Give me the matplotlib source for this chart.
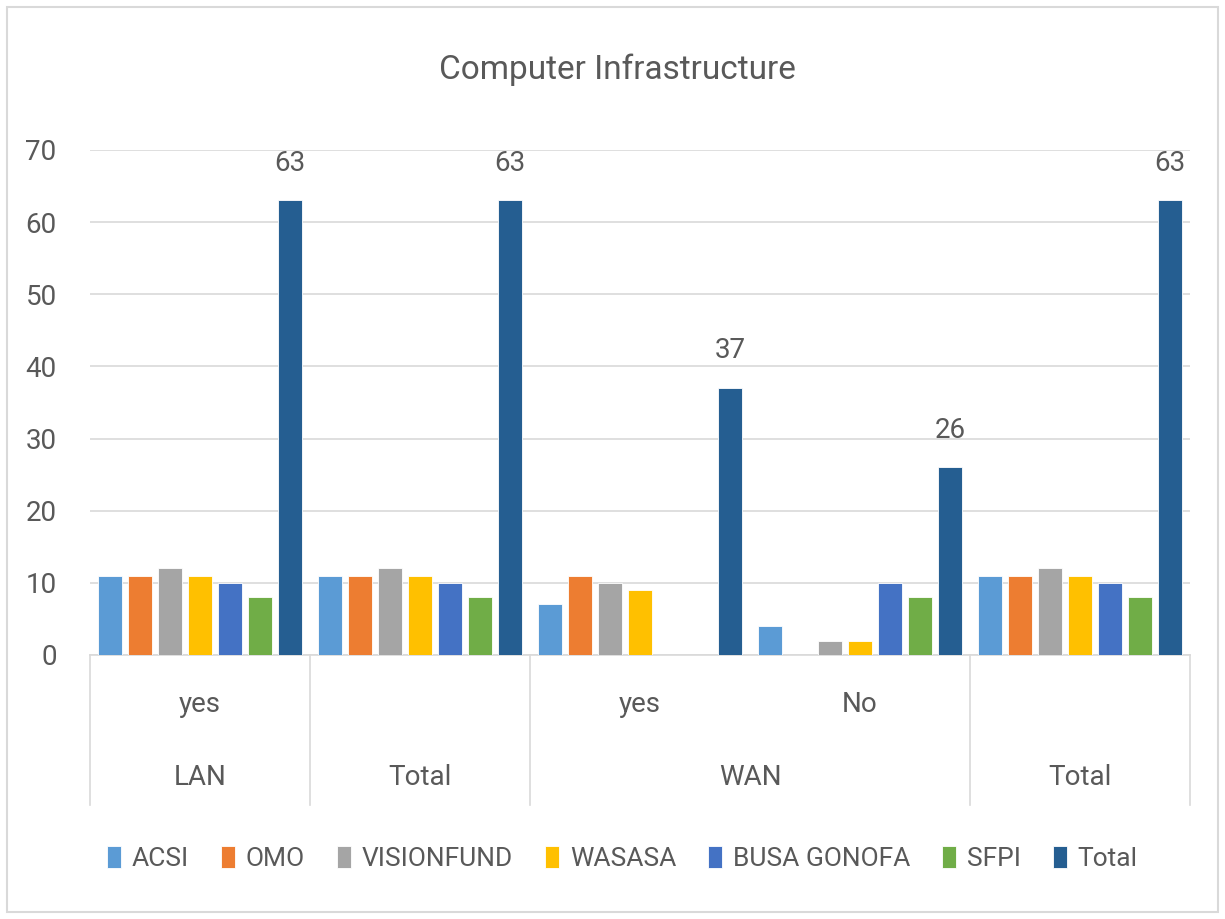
import numpy as np
import matplotlib.pyplot as plt
from matplotlib import font_manager
from matplotlib.patches import Rectangle

# categories (inner level) and outer groups
inner_labels = ['yes', '', 'yes', 'No', '']
outer_labels = ['LAN', 'Total', 'WAN', 'Total']
outer_spans = [(0, 0), (1, 1), (2, 3), (4, 4)]

series = ['ACSI', 'OMO', 'VISIONFUND', 'WASASA', 'BUSA GONOFA', 'SFPI', 'Total']
acsi = [11, 11, 7, 4, 11]
omo = [11, 11, 11, 0, 11]
visionfund = [12, 12, 10, 2, 12]
wasasa = [11, 11, 9, 2, 11]
busa = [10, 10, 0, 10, 10]
sfpi = [8, 8, 0, 8, 8]
total = [63, 63, 37, 26, 63]
values = [acsi, omo, visionfund, wasasa, busa, sfpi, total]
colors = ['#5B9BD5', '#ED7D31', '#A5A5A5', '#FFC000', '#4472C4', '#70AD47', '#255E91']

names = {f.name for f in font_manager.fontManager.ttflist}
fam = 'Liberation Sans Narrow' if 'Liberation Sans Narrow' in names else 'Roboto'
plt.rcParams['font.family'] = [fam, 'DejaVu Sans']
txt = '#595959'

fig = plt.figure(figsize=(12.25, 9.19), dpi=100)
ax = fig.add_axes([0.0735, 0.2873, 0.898, 0.5495])

x = np.arange(len(inner_labels))
pitch = 0.136
width = 0.109
for i, (name, vals, c) in enumerate(zip(series, values, colors)):
    pos = x + pitch * (i - (len(series) - 1) / 2)
    bars = ax.bar(pos, vals, width, color=c, edgecolor='white', linewidth=0.6, label=name, zorder=3)
    if name == 'Total':
        ax.bar_label(bars, padding=17, fontsize=20, color=txt)

ax.set_ylim(0, 70)
ax.set_xlim(-0.5, len(inner_labels) - 0.5)
ax.set_yticks(range(0, 71, 10))
ax.yaxis.grid(True, color='#d9d9d9', linewidth=1.2, zorder=0)
ax.set_axisbelow(True)
ax.tick_params(axis='y', length=0, pad=24, labelsize=20, labelcolor=txt)
ax.set_xticks([])
for s in ['top', 'right', 'left']:
    ax.spines[s].set_visible(False)
ax.spines['bottom'].set_color('#d9d9d9')
ax.spines['bottom'].set_linewidth(1.2)

trans = ax.get_xaxis_transform()
# separator lines for category axis
for xb in [-0.5, 0.5, 1.5, 3.5, 4.5]:
    ax.plot([xb, xb], [0, -0.297], transform=trans, color='#d9d9d9', lw=1.2, clip_on=False)
for xi, lab in zip(x, inner_labels):
    if lab:
        ax.text(xi, -0.099, lab, transform=trans, ha='center', va='center', fontsize=20, color=txt)
for (a, b), lab in zip(outer_spans, outer_labels):
    ax.text((a + b) / 2, -0.242, lab, transform=trans, ha='center', va='center', fontsize=20, color=txt)

fig.text(0.504, 0.924, 'Computer Infrastructure', ha='center', va='center', fontsize=24, color=txt)

fig.legend(loc='center', bbox_to_anchor=(0.508, 0.066), ncol=7, frameon=False, fontsize=19,
           handlelength=0.55, handleheight=0.9, handletextpad=0.4, columnspacing=1.2, labelcolor=txt)

fig.patches.append(Rectangle((0.006, 0.008), 0.988, 0.984, transform=fig.transFigure,
                             fill=False, edgecolor='#d9d9d9', linewidth=1.5))

fig.savefig('out.png', dpi=100)
